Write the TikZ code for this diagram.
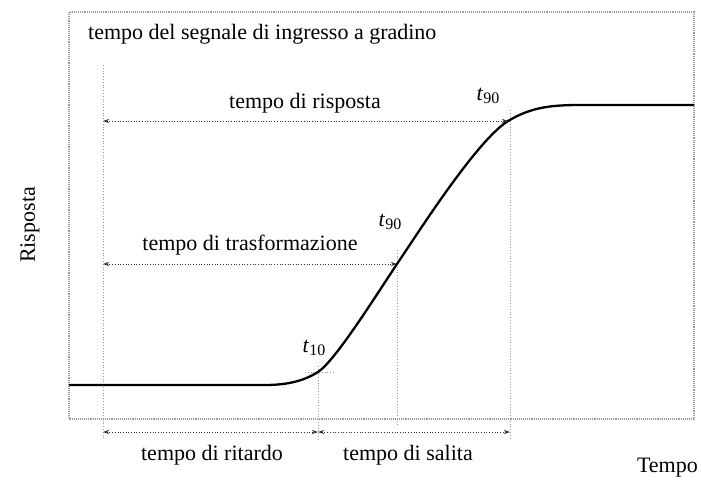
\documentclass[tikz,border=0pt]{standalone}
\usepackage{fontspec}
\setmainfont{Liberation Serif}
\usetikzlibrary{arrows.meta}
\tikzset{
  frame/.style={draw=gray!80, densely dotted, line width=1.1pt},
  guide/.style={draw=gray!80, dotted, line width=0.8pt},
  dim/.style={draw=black!80, dotted, line width=0.7pt, {Stealth[length=6pt,width=4pt]}-{Stealth[length=6pt,width=4pt]}},
  curve/.style={draw=black, line width=2.3pt},
  lbl/.style={font=\fontsize{22}{24}\selectfont, inner sep=0pt},
  tl/.style={font=\fontsize{22}{24}\selectfont, inner sep=0pt}
}
\newcommand{\tsub}[1]{\textit{t}\raisebox{-0.35ex}{\fontsize{16}{16}\selectfont #1}}
\begin{document}
\begin{tikzpicture}[x=1pt,y=-1pt]
\useasboundingbox (0,0) rectangle (701,480);
% frame
\draw[frame] (69,12) rectangle (694,419);
% key coordinates
\coordinate (s0) at (103,65);
\coordinate (s1) at (103,438);
\coordinate (p10) at (318,372);
\coordinate (p10b) at (318,440);
\coordinate (pt) at (397,264);
\coordinate (ptt) at (397,250);
\coordinate (ptb) at (397,425);
\coordinate (pr) at (510,121);
\coordinate (prt) at (510,110);
\coordinate (prb) at (510,440);
% guides
\draw[guide] (s0) -- (s1);
\draw[guide] (318,366) -- (p10b);
\draw[guide] (305,372) -- (335,372);
\draw[guide] (ptt) -- (ptb);
\draw[guide] (prt) -- (prb);
% curve
\draw[curve] (69,385) -- (265,385) .. controls (290,385) and (305,380) .. (p10)
  .. controls (335,361) and (375,297) .. (pt)
  .. controls (425,222) and (478,140) .. (508,121)
  .. controls (530,108) and (548,105) .. (580,105) -- (694,105);
% dimension arrows
\coordinate (a1l) at (103,121); \coordinate (a1r) at (508,121);
\coordinate (a2l) at (103,264); \coordinate (a2r) at (397,264);
\coordinate (a3l) at (103,432); \coordinate (a3r) at (318,432);
\coordinate (a4l) at (318,432); \coordinate (a4r) at (510,432);
\draw[dim] (a1l) -- (a1r);
\draw[dim] (a2l) -- (a2r);
\draw[dim] (a3l) -- (a3r);
\draw[dim] (a4l) -- (a4r);
% labels
\node[lbl, anchor=west] (step) at (88,34) {tempo del segnale di ingresso a gradino};
\node[lbl] (risp) at (305,103) {tempo di risposta};
\node[lbl] (trasf) at (250,245) {tempo di trasformazione};
\node[lbl] (rit) at (212,455) {tempo di ritardo};
\node[lbl] (sal) at (408,455) {tempo di salita};
\node[lbl, anchor=east] (tempo) at (698,468) {Tempo};
\node[lbl, rotate=90] (rispo) at (30,225) {Risposta};
\node[tl] (t10) at (314,348) {\tsub{10}};
\node[tl] (t90a) at (390,222) {\tsub{90}};
\node[tl] (t90b) at (488,96) {\tsub{90}};
\end{tikzpicture}
\end{document}
